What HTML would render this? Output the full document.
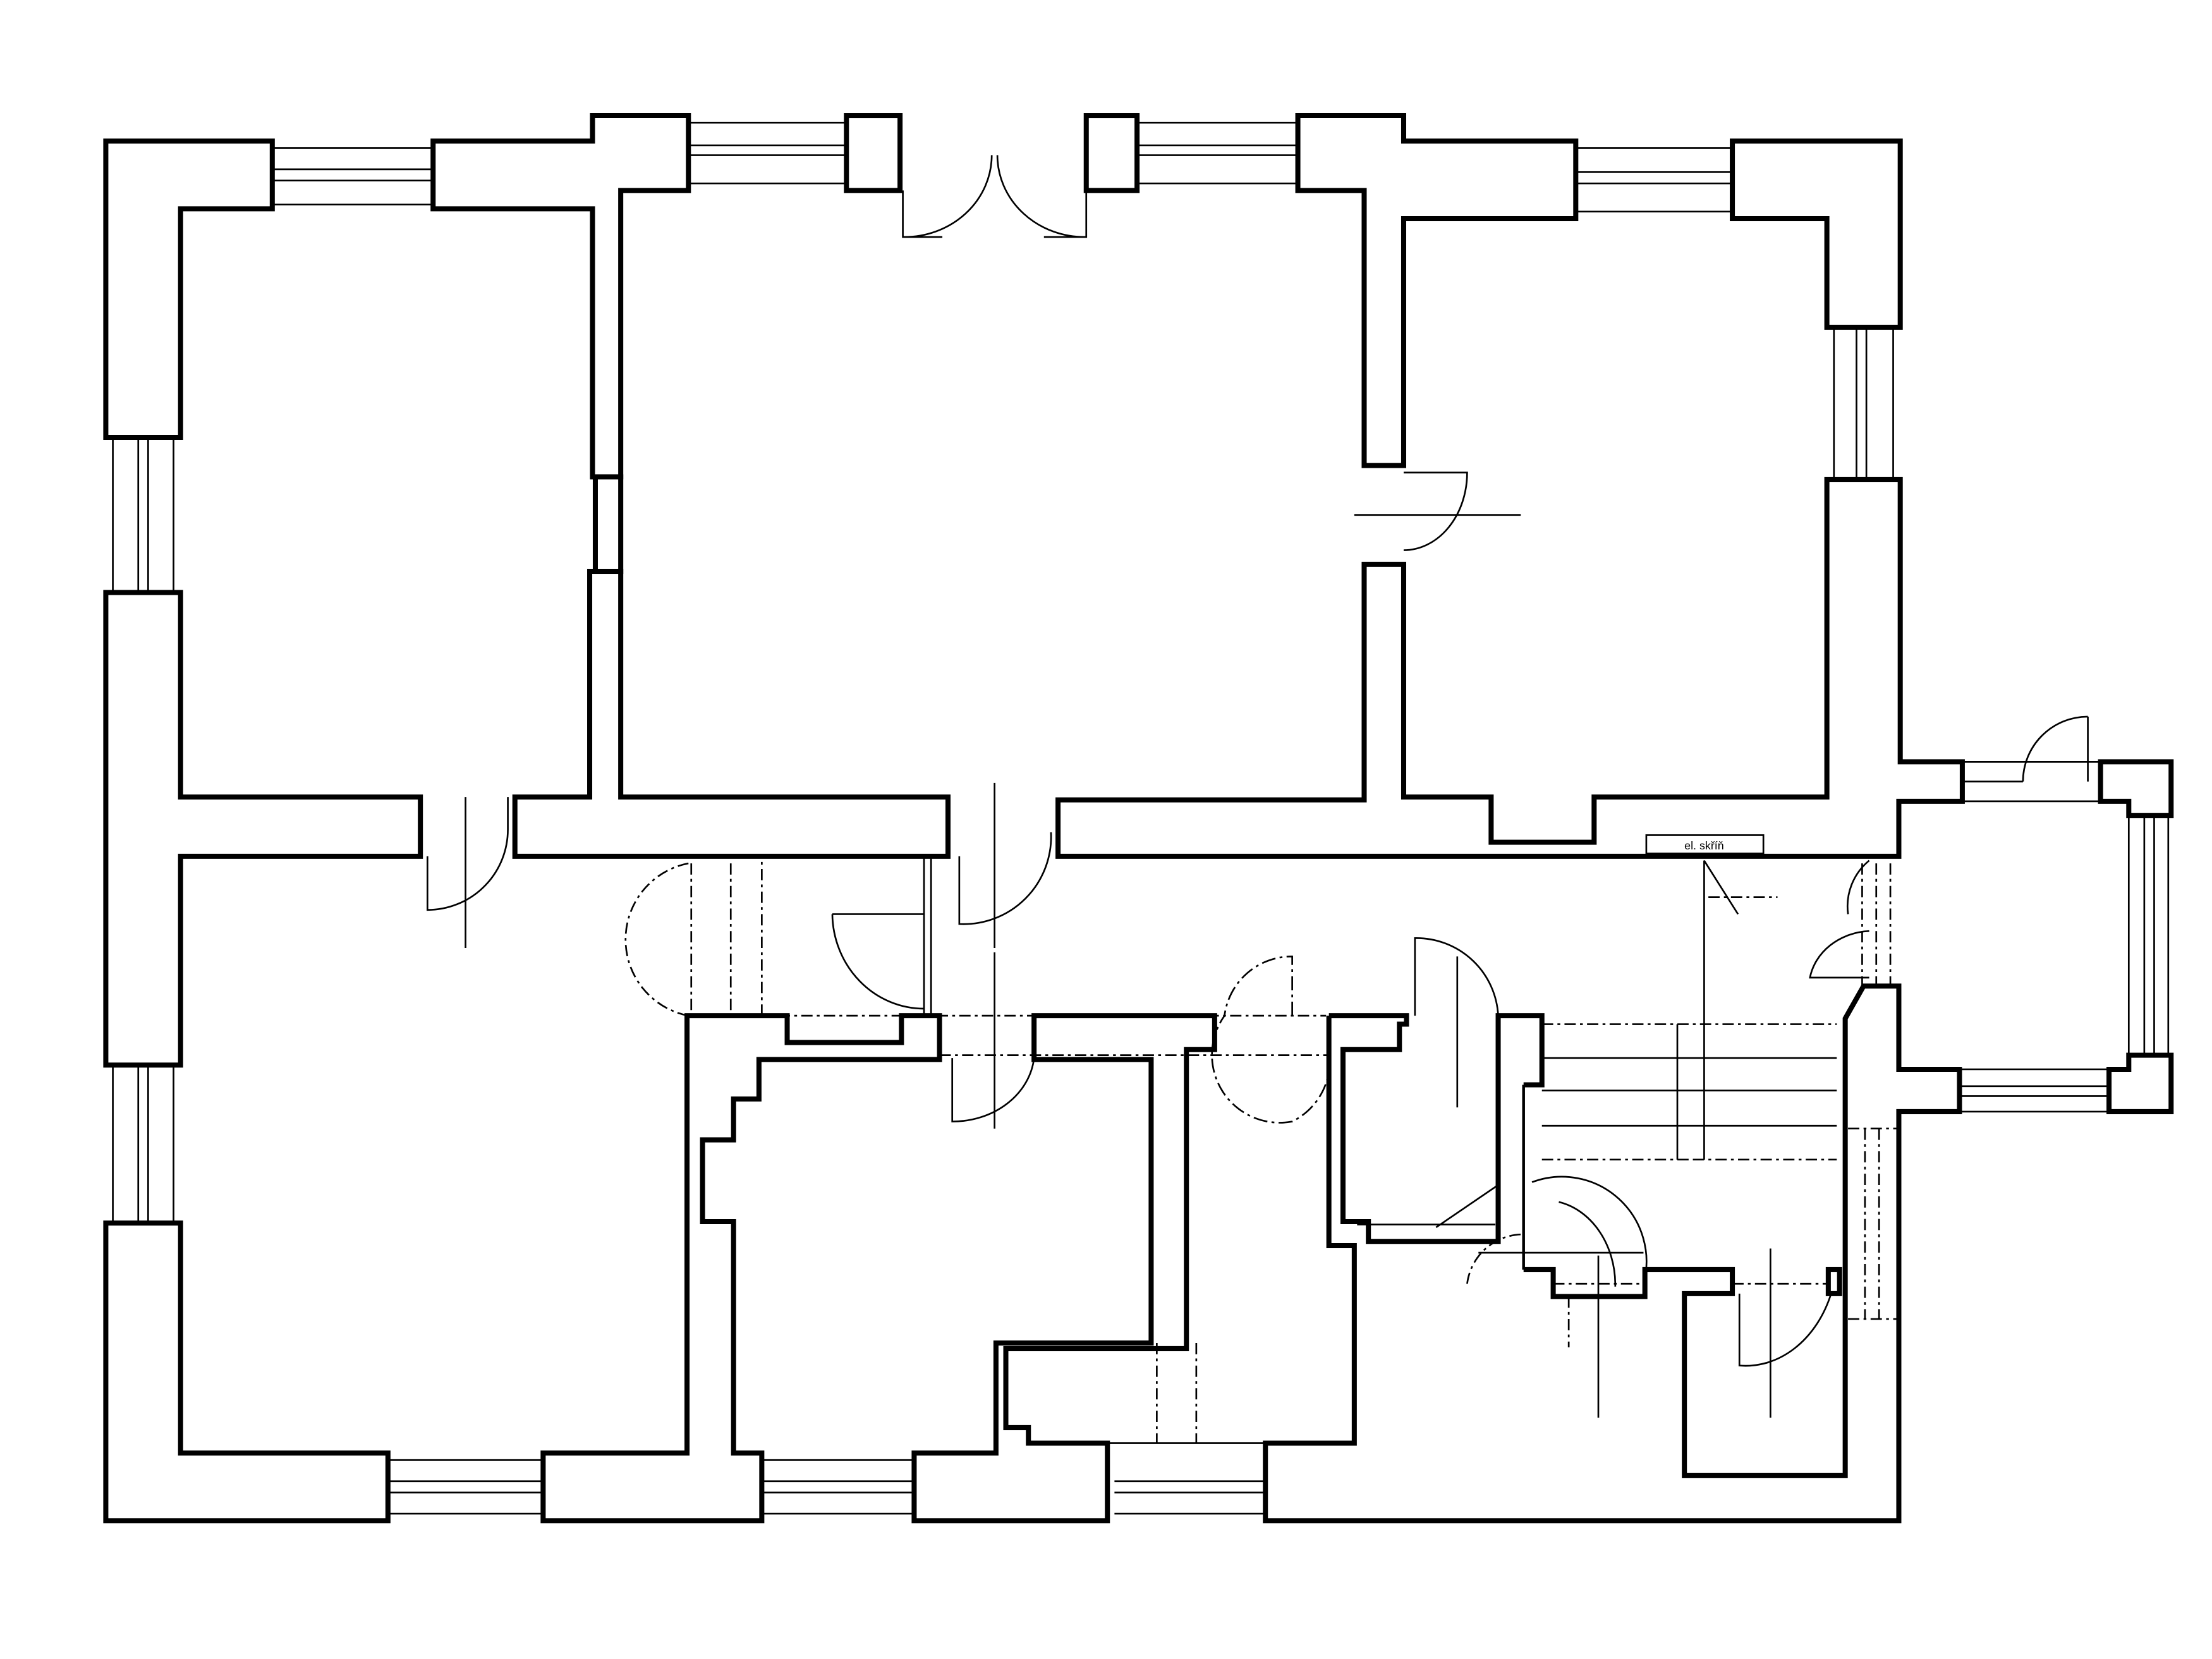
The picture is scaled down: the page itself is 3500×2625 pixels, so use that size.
<!DOCTYPE html>
<html><head><meta charset="utf-8"><style>
html,body{margin:0;padding:0;background:#fff}
svg{display:block}
</style></head><body>
<svg width="3500" height="2625" viewBox="0 0 1568 1176" preserveAspectRatio="none" xmlns="http://www.w3.org/2000/svg">
<rect width="1568" height="1176" fill="#fff"/>
<g fill="none" stroke="#000" stroke-width="3.6" stroke-linejoin="miter">
<polygon points="75,100 193,100 193,148 128,148 128,310 75,310"/>
<polygon points="307,100 420,100 420,82 488,82 488,135 440,135 440,338 420,338 420,148 307,148"/>
<rect x="422" y="338" width="18" height="67"/>
<rect x="600" y="82" width="38" height="53"/>
<rect x="770" y="82" width="36" height="53"/>
<polygon points="920,82 995,82 995,100 1117,100 1117,155 995,155 995,330 967,330 967,135 920,135"/>
<polygon points="1228,100 1347,100 1347,232 1295,232 1295,155 1228,155"/>
<polygon points="75,420 128,420 128,565 298,565 298,607 128,607 128,755 75,755"/>
<polygon points="365,565 418,565 418,405 440,405 440,565 672,565 672,607 365,607"/>
<polygon points="967,400 995,400 995,565 1057,565 1057,597 1130,597 1130,565 1295,565 1295,340 1347,340 1347,540 1391,540 1391,568 1346,568 1346,607 750,607 750,567 967,567"/>
<polygon points="75,867 128,867 128,1030 275,1030 275,1078 75,1078"/>
<polygon points="487,720 558,720 558,739 639,739 639,720 666,720 666,751 538,751 538,779 520,779 520,808 498,808 498,866 520,866 520,1030 540,1030 540,1078 385,1078 385,1030 487,1030"/>
<polygon points="733,720 861,720 861,744 841,744 841,956 713,956 713,1012 729,1012 729,1023 785,1023 785,1078 648,1078 648,1030 706,1030 706,952 816,952 816,751 733,751"/>
<polyline points="942,720 997,720 997,726 992,726 992,744 952,744 952,866 970,866 970,880 1062,880 1062,720 1093,720 1093,769 1080,769"/>
<polyline points="942,720 942,883 960,883 960,1023 897,1023 897,1078 1346,1078 1346,788 1389,788 1389,758 1346,758 1346,699 1321,699 1308,722 1308,1046 1194,1046 1194,917 1228,917 1228,900 1166,900 1166,919 1101,919 1101,900 1080,900"/>
<polyline points="1080,769 1080,900" stroke-width="2"/>
<rect x="1296" y="900" width="8" height="17"/>
<polygon points="1489,540 1539,540 1539,578 1509,578 1509,568 1489,568"/>
<polygon points="1509,748 1539,748 1539,788 1495,788 1495,758 1509,758"/>
<rect x="1167" y="592" width="83" height="13" stroke-width="1.2"/>
</g>
<g fill="none" stroke="#000" stroke-width="1.2">
<path d="M193,105H307M193,120H307M193,128H307M193,145H307"/>
<path d="M488,87H600M488,103H600M488,110H600M488,130H600"/>
<path d="M806,87H920M806,103H920M806,110H920M806,130H920"/>
<path d="M1117,105H1228M1117,122H1228M1117,130H1228M1117,150H1228"/>
<path d="M1300,232V340M1316,232V340M1323,232V340M1342,232V340"/>
<path d="M80,310V420M98,310V420M105,310V420M123,310V420"/>
<path d="M80,755V867M98,755V867M105,755V867M123,755V867"/>
<path d="M275,1035H385M275,1050H385M275,1058H385M275,1073H385"/>
<path d="M540,1035H648M540,1050H648M540,1058H648M540,1073H648"/>
<path d="M785,1023H897M790,1050H897M790,1058H897M790,1073H897"/>
<path d="M1391,540H1489M1391,554H1434M1391,568H1489"/>
<path d="M1509,578V748M1520,578V748M1527,578V748M1537,578V748"/>
<path d="M1389,758H1495M1389,770H1495M1389,777H1495M1389,788H1495"/>
<path d="M640,135V168H668M640,168A62,58 0 0 0 703,110M770,135V168H740M770,168A62,58 0 0 1 707,110"/>
<path d="M303,607V645A57,57 0 0 0 360,588V565M330,565V672"/>
<path d="M680,607V655A62,62 0 0 0 745,590M705,555V672"/>
<path d="M995,335H1040A45,55 0 0 1 995,390M960,365H1078"/>
<path d="M590,648H655M590,648A65,68 0 0 0 655,715M655,607V720M660,607V720"/>
<path d="M675,750V795A58,50 0 0 0 733,750M705,675V800"/>
<path d="M1003,720V665A58,58 0 0 1 1062,720M1033,678V785"/>
<path d="M916,720V678A48,48 0 0 0 868,720A48,48 0 0 0 916,795A48,48 0 0 0 942,760" stroke-dasharray="10 3 2 3"/>
<path d="M1480,508V554M1480,508A46,46 0 0 0 1434,554"/>
<path d="M1325,610A42,42 0 0 0 1310,648M1325,660A45,40 0 0 0 1283,693H1325"/>
<path d="M1086,838A60,60 0 0 1 1165,910M1105,852A50,60 0 0 1 1145,910V912M1133,890V1005"/>
<path d="M1233,917V968A65,80 0 0 0 1298,917M1255,885V1005"/>
<path d="M1018,870L1062,840M962,868H1060M1048,888H1165"/>
<path d="M1208,610V822M1189,726V822M1093,750H1302M1093,773H1302M1093,798H1302"/>
<path d="M1208,610L1232,648"/>
</g>
<g fill="none" stroke="#000" stroke-width="1.2" stroke-dasharray="8 3 2 3">
<path d="M488,720H940M666,748H942M540,720V607M490,612V720M518,612V720"/>
<path d="M488,720A55,55 0 0 1 488,612"/>
<path d="M1093,726H1302M1200,822H1302M1093,822H1200"/>
<path d="M1320,612V699M1330,612V699M1340,612V699M1322,800V935M1332,800V935M1310,935H1346M1310,800H1346"/>
<path d="M1101,910H1166M1228,910H1296"/>
<path d="M1211,636H1260M1040,910A40,40 0 0 1 1080,875M1112,919V955"/>
<path d="M820,952V1023M848,952V1023"/>
</g>
<text x="1208" y="602" font-family="Liberation Sans, sans-serif" font-size="8" text-anchor="middle">el. skříň</text>
</svg>
</body></html>
